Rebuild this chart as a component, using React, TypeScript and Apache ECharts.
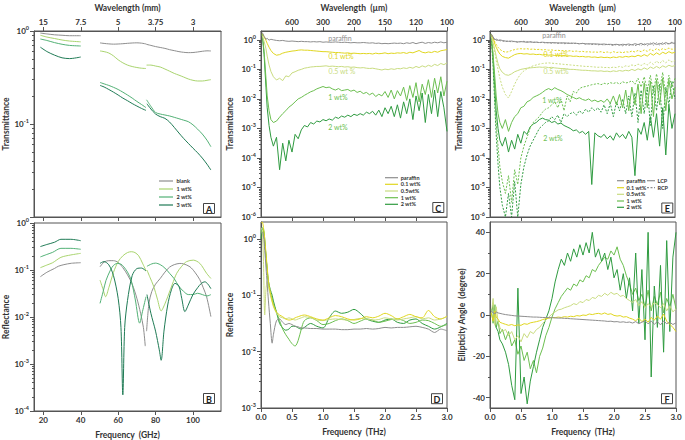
import { useEffect, useRef } from "react";
import * as echarts from "echarts";

type Pt = [number, number];

// ---------- Panel A: transmittance vs frequency (GHz), three waveguide bands ----------
const A_BLANK_K: Pt[] = [[18.4,0.95],[22,0.93],[26,0.91],[30,0.9],[34,0.89],[40,0.89]];
const A_BLANK_V: Pt[] = [[50.3,0.745],[52.5,0.735],[55,0.727],[57.5,0.722],[60,0.725],[62.5,0.73],[65,0.737],[67.5,0.743],[70,0.746],[72.5,0.74],[75,0.725]];
const A_BLANK_W: Pt[] = [[75,0.72],[77.5,0.7],[80,0.68],[82.5,0.665],[85,0.65],[87.5,0.63],[90,0.615],[92.5,0.6],[95,0.59],[97.5,0.585],[100,0.587],[102.5,0.595],[105,0.605],[107.5,0.612],[109.6,0.61]];
const A_1WT_K: Pt[] = [[18.4,0.9],[22,0.86],[26,0.83],[30,0.8],[34,0.78],[40,0.765]];
const A_1WT_V: Pt[] = [[50.3,0.61],[52.5,0.6],[55,0.58],[57.5,0.54],[60,0.49],[62.5,0.455],[65,0.43],[67.5,0.415],[70,0.405],[72.5,0.398],[74.9,0.395]];
const A_1WT_W: Pt[] = [[75.2,0.43],[77.5,0.43],[80,0.42],[82.5,0.41],[85,0.39],[87.5,0.37],[90,0.35],[92.5,0.335],[95,0.32],[97.5,0.305],[100,0.295],[102.5,0.29],[105,0.29],[107.5,0.295],[109.6,0.3]];
const A_2WT_K: Pt[] = [[18.4,0.82],[22,0.79],[26,0.75],[30,0.72],[34,0.7],[40,0.69]];
const A_2WT_V: Pt[] = [[50.3,0.28],[52.5,0.27],[55,0.26],[57.5,0.248],[60,0.235],[62.5,0.22],[65,0.205],[67.5,0.19],[70,0.175],[72.5,0.162],[74.9,0.15]];
const A_2WT_W: Pt[] = [[75.2,0.182],[77.5,0.155],[80,0.133],[82.5,0.128],[85,0.125],[87.5,0.122],[90,0.118],[92.5,0.114],[95,0.11],[97.5,0.106],[100,0.098],[102.5,0.088],[105,0.078],[107.5,0.067],[109.6,0.057]];
const A_3WT_K: Pt[] = [[18.4,0.67],[22,0.6],[26,0.55],[30,0.515],[34,0.505],[40,0.525]];
const A_3WT_V: Pt[] = [[50.3,0.26],[52.5,0.25],[55,0.235],[57.5,0.22],[60,0.205],[62.5,0.19],[65,0.178],[67.5,0.166],[70,0.156],[72.5,0.147],[74.9,0.14]];
const A_3WT_W: Pt[] = [[75.4,0.165],[77.5,0.145],[80,0.128],[82.5,0.12],[85,0.115],[87.5,0.105],[90,0.092],[92.5,0.08],[95,0.07],[97.5,0.062],[100,0.055],[102.5,0.049],[105,0.043],[107.5,0.037],[109.6,0.032]];

// ---------- Panel B: reflectance vs frequency (GHz) ----------
const B_BLANK_K: Pt[] = [[18.4,0.072],[22,0.09],[26,0.108],[28,0.12],[31,0.13],[35,0.139],[40,0.143]];
const B_BLANK_V: Pt[] = [[50.3,0.117],[52.5,0.148],[55,0.158],[57.5,0.158],[60,0.145],[62.5,0.112],[65,0.079],[67.5,0.05],[70,0.025],[72,0.012],[73.5,0.006],[74.5,0.0024]];
const B_BLANK_W: Pt[] = [[75.2,0.005],[76.5,0.02],[78,0.035],[80,0.05],[82.5,0.066],[85,0.09],[87.5,0.115],[90,0.13],[93,0.138],[95,0.135],[98.4,0.117],[101,0.09],[103.7,0.062],[105.5,0.042],[107.3,0.027],[109.6,0.0102]];
const B_1WT_K: Pt[] = [[18.4,0.112],[22,0.128],[25,0.143],[29.4,0.186],[34.7,0.209],[40,0.226]];
const B_1WT_V: Pt[] = [[50.3,0.061],[52,0.038],[53.3,0.027],[55,0.042],[57.5,0.089],[60,0.151],[62.5,0.2],[65,0.235],[67,0.245],[69,0.235],[71,0.2],[73,0.14],[75,0.095]];
const B_1WT_W: Pt[] = [[75.4,0.1],[77,0.07],[79,0.045],[81,0.024],[83,0.0135],[85,0.019],[86.5,0.027],[89,0.05],[91.3,0.085],[94,0.12],[96.6,0.151],[100.2,0.162],[103.7,0.138],[107.3,0.085],[109.6,0.066]];
const B_2WT_K: Pt[] = [[18.4,0.19],[22,0.215],[25,0.238],[29.4,0.289],[34.7,0.289],[40,0.276]];
const B_2WT_V: Pt[] = [[50.3,0.0195],[52,0.035],[53.5,0.06],[55.9,0.1],[57.5,0.125],[59.5,0.138],[61.5,0.133],[63,0.117],[65,0.09],[67,0.06],[69.2,0.023],[71.5,0.0074],[73,0.013],[74.9,0.027]];
const B_2WT_W: Pt[] = [[75.4,0.12],[78,0.135],[80,0.14],[82.5,0.13],[85,0.11],[87.5,0.085],[90,0.065],[92.5,0.045],[95,0.035],[97.5,0.03],[100,0.03],[102.5,0.032],[105,0.03],[107.5,0.028],[109.6,0.03]];
const B_3WT_K: Pt[] = [[18.4,0.315],[22,0.35],[26,0.39],[29.4,0.45],[34.7,0.45],[40,0.42]];
const B_3WT_V: Pt[] = [[50.3,0.138],[52.4,0.151],[55,0.129],[57.5,0.076],[60,0.025],[61.5,0.006],[62.5,0.00022],[63.5,0.006],[65,0.0224],[67.5,0.076],[70,0.107],[72.5,0.11],[74.9,0.095]];
const B_3WT_W: Pt[] = [[75.4,0.03],[77.5,0.012],[80,0.005],[82,0.002],[83,0.0012],[84.5,0.005],[86.5,0.018],[88.5,0.038],[90.4,0.052],[92.5,0.045],[94,0.025],[95.7,0.013],[97.5,0.018],[100,0.03],[102.5,0.042],[104.5,0.052],[106.4,0.056],[108,0.05],[109.6,0.04]];

// ---------- THz frequency grids ----------
const G_THZ = [0.02,0.05,0.08,0.1,0.13,0.16,0.2,
  0.25,0.3,0.35,0.4,0.45,0.5,0.55,0.6,0.65,0.7,
  0.75,0.8,0.85,0.9,0.95,1.0,1.05,1.1,1.15,1.2,
  1.25,1.3,1.35,1.4,1.45,1.5,1.55,1.6,1.65,1.7,
  1.75,1.8,1.85,1.9,1.95,2.0,2.05,2.1,2.15,2.2,
  2.25,2.3,2.35,2.4,2.45,2.5,2.55,2.6,2.65,2.7,
  2.75,2.8,2.85,2.9,2.95,3.0];
const GD_THZ = [0,0.02,0.04,0.06,0.08,0.1,0.12,0.15,0.18,0.2,
  0.25,0.3,0.35,0.4,0.45,0.5,0.55,0.6,0.65,0.7,
  0.8,0.9,1.0,1.1,1.2,1.3,1.4,1.5,1.6,1.7,1.8,1.9,2.0,2.1,2.2,2.3,2.4,2.5,2.6,2.7,2.8,2.9,3.0];

// ---------- Panel C: transmittance, log10 decades ----------
const C_PAR_LOG = [0.25,0.12,0.02,0.05,-0.01,0.02,0.0,
  -0.02,-0.03,-0.02,-0.04,-0.05,-0.04,-0.05,-0.06,-0.05,-0.06,
  -0.06,-0.07,-0.06,-0.07,-0.06,-0.08,-0.07,-0.08,-0.08,-0.07,
  -0.08,-0.09,-0.08,-0.09,-0.1,-0.09,-0.1,-0.1,-0.09,-0.1,
  -0.11,-0.1,-0.12,-0.11,-0.13,-0.12,-0.13,-0.12,-0.11,-0.12,
  -0.11,-0.13,-0.1,-0.12,-0.09,-0.13,-0.1,-0.08,-0.12,-0.09,
  -0.11,-0.08,-0.1,-0.07,-0.1,-0.08];
const C_01_LOG = [0.22,0.1,-0.02,-0.12,-0.25,-0.36,-0.46,
  -0.52,-0.5,-0.45,-0.42,-0.4,-0.38,-0.37,-0.35,-0.34,-0.35,
  -0.35,-0.36,-0.37,-0.38,-0.39,-0.4,-0.4,-0.41,-0.42,-0.43,
  -0.43,-0.44,-0.45,-0.44,-0.46,-0.45,-0.46,-0.47,-0.46,-0.47,
  -0.46,-0.48,-0.45,-0.47,-0.46,-0.44,-0.47,-0.45,-0.46,-0.44,
  -0.45,-0.43,-0.46,-0.42,-0.44,-0.4,-0.36,-0.42,-0.44,-0.41,
  -0.43,-0.39,-0.42,-0.37,-0.35,-0.33];
const C_05_LOG = [0.15,-0.05,-0.3,-0.55,-0.85,-1.07,-1.25,
  -1.36,-1.3,-1.38,-1.22,-1.25,-1.12,-1.08,-1.03,-1.0,-0.96,
  -0.94,-0.92,-0.91,-0.9,-0.9,-0.89,-0.88,-0.9,-0.89,-0.9,
  -0.91,-0.9,-0.92,-0.91,-0.93,-0.92,-0.94,-0.95,-0.94,-0.96,
  -0.97,-0.96,-0.98,-1.0,-1.02,-0.99,-1.01,-0.98,-1.0,-0.97,
  -0.98,-0.95,-0.97,-0.93,-0.96,-0.9,-0.94,-0.88,-0.92,-0.86,
  -0.9,-0.83,-0.87,-0.8,-0.84,-0.78];
const C_1_LOG = [0.2,-0.4,-1.3,-1.9,-2.4,-2.7,-2.8,
  -2.75,-2.62,-2.5,-2.4,-2.28,-2.2,-2.1,-2.0,-1.95,-1.88,
  -1.82,-1.76,-1.72,-1.66,-1.62,-1.58,-1.62,-1.6,-1.66,-1.7,
  -1.65,-1.72,-1.7,-1.68,-1.74,-1.7,-1.78,-1.74,-1.82,-1.78,
  -1.86,-1.8,-1.92,-1.84,-1.9,-1.75,-1.95,-1.7,-2.0,-1.72,
  -1.9,-1.6,-2.05,-1.55,-1.95,-1.45,-2.1,-1.5,-1.85,-1.35,
  -1.95,-1.3,-1.8,-1.25,-1.9,-1.4];
const C_2_LOG = [0.2,-0.5,-1.6,-2.3,-2.9,-3.3,-3.6,
  -3.3,-4.4,-3.5,-4.1,-3.4,-3.8,-3.2,-3.35,-3.05,-2.9,
  -2.95,-2.8,-2.85,-2.75,-2.78,-2.7,-2.74,-2.68,-2.72,-2.62,
  -2.66,-2.58,-2.62,-2.55,-2.6,-2.52,-2.56,-2.5,-2.55,-2.45,
  -2.5,-2.42,-2.55,-2.38,-2.6,-2.3,-2.5,-2.25,-2.6,-2.2,
  -2.65,-2.1,-2.5,-2.0,-2.7,-1.9,-2.4,-1.8,-2.8,-1.85,
  -2.5,-1.7,-2.6,-1.75,-2.3,-3.1];

// ---------- Panel D: reflectance, log10 decades ----------
const D_PAR_LOG = [0.1,0.12,0.05,-0.2,-0.5,-0.8,-1.1,-1.5,-1.85,-1.7,
  -1.45,-1.42,-1.48,-1.52,-1.5,-1.52,-1.55,-1.56,-1.58,-1.58,
  -1.59,-1.59,-1.6,-1.6,-1.6,-1.61,-1.61,-1.6,-1.6,-1.59,-1.6,-1.59,-1.57,-1.58,-1.57,-1.57,-1.56,-1.55,-1.57,-1.6,-1.66,-1.6,-1.63];
const D_01_LOG = [0.28,0.3,0.2,0.0,-0.25,-0.5,-0.75,-0.95,-1.1,-1.18,
  -1.3,-1.35,-1.38,-1.42,-1.44,-1.43,-1.4,-1.38,-1.36,-1.35,
  -1.38,-1.42,-1.44,-1.4,-1.36,-1.38,-1.42,-1.44,-1.42,-1.38,-1.4,-1.37,-1.32,-1.36,-1.42,-1.38,-1.34,-1.38,-1.4,-1.27,-1.38,-1.42,-1.37];
const D_05_LOG = [0.2,0.15,-0.4,-1.35,-0.9,-0.75,-0.85,-1.0,-1.12,-1.2,
  -1.32,-1.38,-1.4,-1.42,-1.4,-1.42,-1.44,-1.42,-1.4,-1.38,
  -1.4,-1.44,-1.45,-1.43,-1.42,-1.43,-1.44,-1.43,-1.41,-1.42,-1.44,-1.43,-1.4,-1.42,-1.44,-1.42,-1.4,-1.38,-1.42,-1.4,-1.44,-1.42,-1.38];
const D_1_LOG = [0.1,0.2,0.18,0.0,-0.3,-0.55,-0.8,-0.95,-1.05,-1.15,
  -1.3,-1.45,-1.6,-1.7,-1.78,-1.86,-1.9,-1.8,-1.6,-1.45,
  -1.4,-1.45,-1.52,-1.5,-1.45,-1.42,-1.45,-1.5,-1.46,-1.42,-1.44,-1.48,-1.46,-1.43,-1.42,-1.45,-1.5,-1.48,-1.44,-1.45,-1.5,-1.55,-1.52];
const D_2_LOG = [0.0,0.18,0.15,-0.05,-0.3,-0.55,-0.75,-0.9,-1.0,-1.1,
  -1.3,-1.5,-1.58,-1.62,-1.6,-1.55,-1.55,-1.58,-1.6,-1.57,
  -1.5,-1.55,-1.58,-1.4,-1.28,-1.32,-1.3,-1.25,-1.32,-1.42,-1.46,-1.48,-1.44,-1.42,-1.48,-1.5,-1.44,-1.42,-1.5,-1.55,-1.6,-1.56,-1.5];

// ---------- Panel E: transmittance LCP / RCP, log10 decades ----------
const E_PAR_LCP = [0.2,0.1,0.0,0.03,-0.02,0.0,-0.02,
  -0.04,-0.05,-0.04,-0.06,-0.07,-0.06,-0.07,-0.08,-0.07,-0.08,
  -0.08,-0.09,-0.08,-0.09,-0.1,-0.09,-0.1,-0.1,-0.11,-0.1,
  -0.11,-0.12,-0.11,-0.12,-0.13,-0.12,-0.13,-0.14,-0.13,-0.14,
  -0.14,-0.15,-0.14,-0.16,-0.15,-0.16,-0.15,-0.17,-0.15,-0.16,
  -0.14,-0.17,-0.13,-0.16,-0.12,-0.17,-0.13,-0.15,-0.1,-0.16,
  -0.12,-0.15,-0.09,-0.14,-0.1,-0.13];
const E_PAR_RCP = [0.15,0.05,0.02,-0.02,0.01,-0.03,-0.04,
  -0.06,-0.04,-0.07,-0.05,-0.08,-0.06,-0.05,-0.07,-0.06,-0.09,
  -0.07,-0.1,-0.08,-0.11,-0.09,-0.12,-0.1,-0.12,-0.1,-0.13,
  -0.12,-0.1,-0.13,-0.11,-0.14,-0.12,-0.15,-0.13,-0.16,-0.14,
  -0.17,-0.15,-0.18,-0.14,-0.17,-0.19,-0.16,-0.18,-0.2,-0.17,
  -0.19,-0.16,-0.2,-0.15,-0.19,-0.12,-0.2,-0.11,-0.18,-0.1,
  -0.17,-0.09,-0.15,-0.12,-0.08,-0.11];
const E_01_LCP = [0.2,0.05,-0.15,-0.25,-0.38,-0.48,-0.56,
  -0.6,-0.62,-0.56,-0.5,-0.47,-0.46,-0.48,-0.47,-0.49,-0.48,
  -0.5,-0.49,-0.51,-0.5,-0.52,-0.51,-0.53,-0.52,-0.54,-0.53,
  -0.55,-0.54,-0.56,-0.55,-0.57,-0.56,-0.58,-0.57,-0.59,-0.58,
  -0.6,-0.58,-0.6,-0.59,-0.61,-0.58,-0.6,-0.57,-0.59,-0.56,
  -0.58,-0.55,-0.57,-0.52,-0.56,-0.5,-0.55,-0.46,-0.52,-0.44,
  -0.5,-0.42,-0.47,-0.4,-0.45,-0.42];
const E_01_RCP = [0.18,0.08,-0.08,-0.15,-0.25,-0.32,-0.38,
  -0.42,-0.4,-0.36,-0.33,-0.31,-0.3,-0.31,-0.3,-0.32,-0.31,
  -0.33,-0.32,-0.34,-0.33,-0.35,-0.34,-0.36,-0.35,-0.37,-0.36,
  -0.38,-0.37,-0.39,-0.38,-0.4,-0.39,-0.41,-0.4,-0.42,-0.41,
  -0.42,-0.4,-0.43,-0.41,-0.44,-0.4,-0.43,-0.41,-0.44,-0.4,
  -0.42,-0.38,-0.41,-0.36,-0.4,-0.34,-0.39,-0.32,-0.37,-0.3,
  -0.35,-0.3,-0.33,-0.28,-0.32,-0.3];
const E_05_LCP = [0.15,-0.1,-0.35,-0.55,-0.8,-0.98,-1.1,
  -1.18,-1.2,-1.15,-1.08,-1.04,-1.0,-0.98,-0.96,-0.95,-0.94,
  -0.93,-0.92,-0.93,-0.92,-0.94,-0.93,-0.95,-0.96,-0.97,-0.98,
  -0.99,-1.0,-1.0,-1.01,-1.02,-1.03,-1.03,-1.04,-1.05,-1.05,
  -1.06,-1.05,-1.07,-1.06,-1.08,-1.05,-1.07,-1.04,-1.06,-1.03,
  -1.05,-1.0,-1.04,-0.98,-1.02,-0.95,-1.0,-0.92,-0.97,-0.9,
  -0.96,-0.88,-0.93,-0.86,-0.9,-0.87];
const E_05_RCP = [0.12,-0.15,-0.45,-0.7,-1.0,-1.3,-1.6,
  -1.85,-1.97,-1.75,-1.5,-1.3,-1.15,-1.05,-0.98,-0.92,-0.88,
  -0.85,-0.82,-0.8,-0.79,-0.78,-0.79,-0.8,-0.81,-0.82,-0.83,
  -0.84,-0.85,-0.86,-0.87,-0.88,-0.89,-0.9,-0.9,-0.91,-0.92,
  -0.93,-0.92,-0.94,-0.93,-0.95,-0.92,-0.94,-0.9,-0.93,-0.88,
  -0.9,-0.85,-0.88,-0.82,-0.87,-0.8,-0.85,-0.76,-0.83,-0.72,
  -0.8,-0.7,-0.78,-0.68,-0.75,-0.7];
const E_1_LCP = [0.2,-0.5,-1.3,-1.9,-2.5,-2.8,-3.0,
  -2.7,-3.1,-2.8,-2.6,-2.5,-2.3,-2.25,-2.1,-2.05,-1.95,
  -1.9,-1.85,-1.78,-1.7,-1.65,-1.7,-1.62,-1.68,-1.72,-1.78,
  -1.85,-1.9,-1.95,-2.0,-1.96,-2.02,-2.05,-2.0,-2.08,-2.04,
  -2.1,-2.05,-2.12,-2.0,-2.15,-1.9,-2.2,-1.85,-2.3,-1.7,
  -2.4,-1.6,-2.2,-1.5,-2.5,-1.45,-2.3,-1.4,-2.6,-1.35,
  -2.2,-1.3,-2.4,-1.35,-2.0,-1.6];
const E_1_RCP = [0.15,-0.8,-2.0,-2.8,-3.6,-4.3,-4.8,
  -5.2,-4.6,-5.5,-4.4,-4.9,-4.0,-3.6,-3.3,-3.0,-2.8,
  -2.7,-2.6,-2.45,-2.35,-2.3,-2.2,-2.1,-2.3,-2.0,-2.4,
  -1.9,-2.1,-1.75,-1.8,-1.65,-1.6,-1.58,-1.55,-1.52,-1.5,
  -1.48,-1.52,-1.47,-1.5,-1.45,-1.48,-1.44,-1.5,-1.42,-1.46,
  -1.44,-1.38,-1.5,-1.3,-1.6,-1.25,-1.7,-1.2,-1.8,-1.15,
  -1.7,-1.1,-1.9,-1.2,-1.6,-1.3];
const E_2_LCP = [0.2,-0.6,-1.7,-2.4,-3.0,-3.4,-3.6,
  -3.3,-3.8,-3.4,-3.7,-3.2,-3.5,-3.1,-3.2,-2.95,-2.85,
  -2.8,-2.7,-2.65,-2.7,-2.72,-2.8,-2.76,-2.85,-2.82,-2.9,
  -2.95,-3.0,-3.08,-3.05,-3.15,-3.1,-3.2,-3.1,-4.9,-3.15,
  -3.25,-3.3,-3.2,-3.35,-3.25,-3.4,-3.15,-3.3,-3.2,-3.35,
  -3.1,-3.3,-4.6,-3.0,-3.2,-2.8,-3.4,-2.6,-3.3,-2.5,
  -3.6,-2.3,-3.9,-2.2,-3.0,-2.5];
const E_2_RCP = [0.1,-0.9,-2.3,-3.2,-4.2,-5.0,-5.6,
  -6.0,-5.2,-6.0,-4.8,-6.0,-4.9,-4.3,-3.9,-3.6,-3.4,
  -3.2,-3.0,-2.9,-2.8,-2.75,-2.6,-2.7,-2.55,-2.8,-2.5,
  -2.6,-2.5,-2.45,-2.55,-2.4,-2.5,-2.35,-2.45,-2.3,-2.4,
  -2.3,-2.45,-2.2,-2.5,-2.15,-2.6,-2.1,-2.4,-2.0,-2.5,
  -1.9,-2.6,-1.8,-2.8,-1.7,-2.5,-1.6,-2.9,-1.55,-2.4,
  -1.5,-3.0,-1.6,-2.2,-1.4,-2.0];

// ---------- Panel F: ellipticity angle (degree) ----------
const F_PAR = [2,1,0.5,1.5,1,0.8,0.5,
  0.2,0,-0.2,-0.4,-0.5,-0.6,-0.7,-0.8,-0.9,-1.0,
  -1.0,-1.1,-1.2,-1.2,-1.3,-1.3,-1.4,-1.5,-1.5,-1.6,
  -1.7,-1.8,-1.9,-2.0,-2.1,-2.2,-2.3,-2.4,-2.5,-2.6,
  -2.7,-2.8,-2.9,-3.1,-3.0,-3.3,-3.2,-3.5,-3.3,-3.6,
  -3.4,-3.9,-3.2,-4.2,-3.5,-2.8,-4.3,-3.0,-4.5,-3.2,
  -4.8,-2.9,-4.2,-3.5,-4.6,-3.8];
const F_01 = [1,-3,2,-1,-2,-3.5,-4,
  -4.5,-5,-4.6,-5.2,-4.8,-5,-4.2,-4.5,-3.8,-3.5,
  -3.2,-2.8,-2.2,-1.8,-1.5,-1.2,-1.3,-1.0,-1.2,-0.8,
  -1.0,-0.6,-0.8,-0.3,-0.5,0,-0.2,0.5,0.2,0.6,
  0.8,0.4,1.0,0.3,0.6,-0.2,-0.5,-0.3,-1.0,-0.8,
  -1.5,-2.0,-2.8,-1.5,-3.2,-2.0,-3.5,-1.2,-2.5,-0.5,
  -2.0,0.5,-3.0,-4.5,-6,-8];
const F_05 = [0,8,-5,4,-3,-6,-8,
  -7,-10,-8,-12,-10,-13,-9,-11,-8,-9,
  -7,-6,-4,-2.5,-1,0.5,1.5,2.5,2.8,3.5,
  4,4.5,5.5,5,6.5,6,7.5,7,8.5,8,
  9.5,9,10.5,9.5,11,10,10.5,9,9.5,8,
  7,6,7.5,4.5,6.5,3.5,5.5,4,6,5,
  3.5,5.5,2,4.5,1.5,3];
const F_1 = [3,-4,5,-6,-3,-9,-7,
  -12,-8,-15,-12,-19,-15,-22,-18,-26,-22,
  -28,-20,-16,-10,-6,-1,3,6,9,11,
  13,12,15,14,17,16,19,18,22,21,
  24,26,28,27,31,29,33,27,24,19,
  15,10,13,7,10,4,12,2,9,5,
  11,1,8,4,10,3];
const F_2 = [0,5,-3,-6,-8,-12,-14,
  -18,-24,-34,-41,13,-38,-30,-43,-32,-25,
  -18,-12,-6,-2,2,8,16,22,27,24,
  30,26,32,28,34,29,35,30,40,28,
  32,26,30,22,28,18,22,12,20,8,
  18,2,30,-4,22,-12,40,-30,14,-6,
  24,-18,36,-8,28,40];

// ---------- tick values ----------
const GHZ_TICKS = [20, 40, 60, 80, 100];
const THZ_TICKS = [0, 0.5, 1, 1.5, 2, 2.5, 3];
const THZ_TOP_TICKS = [0.5, 1, 1.5, 2, 2.5, 3];
const ANGLE_TICKS = [-40, -20, 0, 20, 40];

// ---------- colours ----------
const COL_BLANK = "#8e8e8e";
const COL_A1 = "#a9d46e";
const COL_A2 = "#52b175";
const COL_A3 = "#1f7b55";
const COL_PAR = "#8e8e8e";
const COL_01 = "#e0d620";
const COL_05 = "#c9dc80";
const COL_1 = "#6cbf50";
const COL_2 = "#2f9b40";

const FONT = "Lato, 'Open Sans', sans-serif";
const INK = "#333";
const AXC = "#555";

const toLog = (pts: Pt[]) => pts.map(([f, v]) => [f, Math.log10(v)]);
const onGrid = (xs: number[], ys: number[]) => xs.map((x, i) => [x, ys[i]]);
const range = (a: number, b: number) => { const o: number[] = []; for (let n = a; n <= b; n++) o.push(n); return o; };
function minorLog(lo: number, hi: number) {
  const out: number[] = [];
  for (let n = Math.floor(lo); n < Math.ceil(hi); n++)
    for (let k = 2; k <= 9; k++) { const v = n + Math.log10(k); if (v > lo && v < hi) out.push(v); }
  return out;
}

const lab = { fontFamily: FONT, fontSize: 8, fontWeight: "bold" as const, color: INK };
const nameStyle = { fontFamily: FONT, fontSize: 8.5, fontWeight: "bold" as const, color: INK };
const powRich = {
  b: { fontFamily: FONT, fontSize: 8, fontWeight: "bold", color: INK },
  s: { fontFamily: FONT, fontSize: 5.5, fontWeight: "bold", color: INK, padding: [0, 0, 6, 0] },
};
const powFmt = (v: number) => `{b|10}{s|${Math.round(v)}}`;

function xAx(grid: number, min: number, max: number, ticks: number[], o: any = {}) {
  return {
    type: "value", gridIndex: grid, min, max, position: o.position || "bottom",
    axisLine: { show: true, onZero: false, lineStyle: { color: AXC, width: 1 } },
    axisTick: { show: true, customValues: ticks, length: 4, lineStyle: { color: AXC } },
    axisLabel: o.labels
      ? { show: true, customValues: o.labelValues || ticks, formatter: o.formatter, margin: 5, ...lab }
      : { show: false },
    splitLine: { show: false },
    name: o.name || "", nameLocation: "middle", nameGap: o.nameGap || 18, nameTextStyle: nameStyle,
  };
}
function yAx(grid: number, min: number, max: number, ticks: number[], o: any = {}) {
  return {
    type: "value", gridIndex: grid, min, max, position: "left",
    axisLine: { show: true, onZero: false, lineStyle: { color: AXC, width: 1 } },
    axisTick: { show: true, customValues: ticks, length: 4, lineStyle: { color: AXC } },
    axisLabel: {
      show: true, customValues: o.labelValues || ticks, margin: 5,
      formatter: o.pow ? powFmt : (v: number) => String(v), rich: o.pow ? powRich : undefined, ...lab,
    },
    splitLine: { show: false },
    name: o.name, nameLocation: "middle", nameGap: o.nameGap, nameRotate: 90, nameTextStyle: nameStyle,
  };
}
function minorAx(grid: number, min: number, max: number, ticks: number[]) {
  return {
    type: "value", gridIndex: grid, min, max, position: "left",
    axisLine: { show: false }, axisLabel: { show: false }, splitLine: { show: false },
    axisTick: { show: true, customValues: ticks, length: 2, lineStyle: { color: AXC } },
  };
}

function ln(xi: number, yi: number, data: any[], color: string, o: any = {}) {
  return {
    type: "line", xAxisIndex: xi, yAxisIndex: yi, data, symbol: "none", showSymbol: false,
    smooth: o.smooth ?? false, silent: true, clip: true, z: o.z ?? 2,
    lineStyle: { color, width: o.width ?? 1, type: o.dash ? [2, 1.5] : "solid" },
    itemStyle: { color },
  };
}

function letterBox(t: string, cx: number, cy: number) {
  return [
    { type: "rect", shape: { x: cx - 5.5, y: cy - 5, width: 11, height: 10 }, style: { fill: "#fff", stroke: "#444", lineWidth: 1 }, z: 100 },
    { type: "text", x: cx, y: cy + 0.5, z: 101, style: { text: t, fill: "#222", fontFamily: FONT, fontSize: 9, fontWeight: "bold", textAlign: "center", textVerticalAlign: "middle", align: "center", verticalAlign: "middle" } },
  ];
}
function legendRows(x1: number, x2: number, tx: number, ys: number[], labels: string[], colors: string[], dash = false) {
  const out: any[] = [];
  ys.forEach((y, i) => {
    out.push({ type: "line", z: 100, shape: { x1, y1: y, x2, y2: y }, style: { stroke: colors[i], lineWidth: 1.2, lineDash: dash ? [2, 1.5] : null } });
    out.push({ type: "text", x: tx, y, z: 100, style: { text: labels[i], fill: INK, fontFamily: FONT, fontSize: 5.5, fontWeight: "bold", textAlign: "left", textVerticalAlign: "middle", align: "left", verticalAlign: "middle" } });
  });
  return out;
}
function inlineLabel(t: string, cx: number, cy: number, color: string) {
  return { type: "text", x: cx, y: cy, z: 100, style: { text: t, fill: color, fontFamily: FONT, fontSize: 7, textAlign: "center", textVerticalAlign: "middle", align: "center", verticalAlign: "middle" } };
}

export default function App() {
  const ref = useRef<HTMLDivElement>(null);
  useEffect(() => {
    if (!ref.current) return;
    const chart = echarts.init(ref.current, null, { renderer: "svg" });
    const gridBase = { show: true, borderColor: AXC, borderWidth: 1, backgroundColor: "transparent", containLabel: false };
    const mmFmt = (v: number) => String(+(300 / v).toFixed(2));
    const umFmt = (v: number) => String(Math.round(300 / v));
    const thzFmt = (v: number) => v.toFixed(1);

    const series: any[] = [];
    // A
    ([[A_BLANK_K, A_BLANK_V, A_BLANK_W, COL_BLANK], [A_1WT_K, A_1WT_V, A_1WT_W, COL_A1], [A_2WT_K, A_2WT_V, A_2WT_W, COL_A2], [A_3WT_K, A_3WT_V, A_3WT_W, COL_A3]] as any[]).forEach(([k, v, w, c]) => {
      [k, v, w].forEach((seg: Pt[]) => series.push(ln(0, 0, toLog(seg), c, { smooth: 0.3 })));
    });
    // B
    ([[B_BLANK_K, B_BLANK_V, B_BLANK_W, COL_BLANK], [B_1WT_K, B_1WT_V, B_1WT_W, COL_A1], [B_2WT_K, B_2WT_V, B_2WT_W, COL_A2], [B_3WT_K, B_3WT_V, B_3WT_W, COL_A3]] as any[]).forEach(([k, v, w, c]) => {
      [k, v, w].forEach((seg: Pt[]) => series.push(ln(2, 1, toLog(seg), c, { smooth: 0.3 })));
    });
    // C
    series.push(ln(3, 2, onGrid(G_THZ, C_2_LOG), COL_2));
    series.push(ln(3, 2, onGrid(G_THZ, C_1_LOG), COL_1));
    series.push(ln(3, 2, onGrid(G_THZ, C_05_LOG), COL_05));
    series.push(ln(3, 2, onGrid(G_THZ, C_01_LOG), COL_01));
    series.push(ln(3, 2, onGrid(G_THZ, C_PAR_LOG), COL_PAR));
    // D
    series.push(ln(5, 3, onGrid(GD_THZ, D_2_LOG), COL_2, { smooth: 0.3 }));
    series.push(ln(5, 3, onGrid(GD_THZ, D_1_LOG), COL_1, { smooth: 0.3 }));
    series.push(ln(5, 3, onGrid(GD_THZ, D_05_LOG), COL_05, { smooth: 0.3 }));
    series.push(ln(5, 3, onGrid(GD_THZ, D_01_LOG), COL_01, { smooth: 0.3 }));
    series.push(ln(5, 3, onGrid(GD_THZ, D_PAR_LOG), COL_PAR, { smooth: 0.3 }));
    // E
    series.push(ln(6, 4, onGrid(G_THZ, E_2_RCP), COL_2, { dash: true }));
    series.push(ln(6, 4, onGrid(G_THZ, E_2_LCP), COL_2));
    series.push(ln(6, 4, onGrid(G_THZ, E_1_RCP), COL_1, { dash: true }));
    series.push(ln(6, 4, onGrid(G_THZ, E_1_LCP), COL_1));
    series.push(ln(6, 4, onGrid(G_THZ, E_05_RCP), COL_05, { dash: true }));
    series.push(ln(6, 4, onGrid(G_THZ, E_05_LCP), COL_05));
    series.push(ln(6, 4, onGrid(G_THZ, E_01_RCP), COL_01, { dash: true }));
    series.push(ln(6, 4, onGrid(G_THZ, E_01_LCP), COL_01));
    series.push(ln(6, 4, onGrid(G_THZ, E_PAR_RCP), COL_PAR, { dash: true }));
    series.push(ln(6, 4, onGrid(G_THZ, E_PAR_LCP), COL_PAR));
    // F
    series.push(ln(8, 5, onGrid(G_THZ, F_1), COL_1));
    series.push(ln(8, 5, onGrid(G_THZ, F_2), COL_2));
    series.push(ln(8, 5, onGrid(G_THZ, F_05), COL_05));
    series.push(ln(8, 5, onGrid(G_THZ, F_01), COL_01));
    series.push(ln(8, 5, onGrid(G_THZ, F_PAR), COL_PAR));

    const graphic: any[] = [
      ...letterBox("A", 209, 208.5), ...letterBox("B", 209, 398.5),
      ...letterBox("C", 438.3, 207.5), ...letterBox("D", 437, 398.7),
      ...letterBox("E", 667.3, 208), ...letterBox("F", 667, 398.7),
      ...legendRows(159, 173, 176.5, [181, 189, 197, 205], ["blank", "1 wt%", "2 wt%", "3 wt%"], [COL_BLANK, COL_A1, COL_A2, COL_A3]),
      ...legendRows(385, 398, 400.7, [177.7, 184.3, 191, 197.7, 204.3], ["paraffin", "0.1 wt%", "0.5wt%", "1 wt%", "2 wt%"], [COL_PAR, COL_01, COL_05, COL_1, COL_2]),
      ...legendRows(617, 624, 626.5, [180.7, 187.7, 194.3, 201, 207.3], ["paraffin", "0.1 wt%", "0.5wt%", "1 wt%", "2 wt%"], [COL_PAR, COL_01, COL_05, COL_1, COL_2]),
      ...legendRows(647, 655, 657.5, [180.7], ["LCP"], [COL_PAR]),
      ...legendRows(647, 655, 657.5, [187.7], ["RCP"], [COL_PAR], true),
      inlineLabel("paraffin", 340, 38, COL_PAR),
      inlineLabel("0.1 wt%", 341, 56, COL_01),
      inlineLabel("0.5 wt %", 342, 71, COL_05),
      inlineLabel("1 wt%", 338, 97, COL_1),
      inlineLabel("2 wt%", 338, 127, COL_1),
      inlineLabel("paraffin", 554, 35, COL_PAR),
      inlineLabel("0.1 wt%", 556, 54, COL_01),
      inlineLabel("0.5 wt%", 556, 71, COL_05),
      inlineLabel("1 wt%", 552, 100, COL_1),
      inlineLabel("2 wt%", 553, 138, COL_1),
    ];

    chart.setOption({
      animation: false,
      backgroundColor: "#fff",
      textStyle: { fontFamily: FONT },
      grid: [
        { ...gridBase, left: 34, top: 31, width: 187, height: 186 },
        { ...gridBase, left: 34, top: 223, width: 187, height: 188 },
        { ...gridBase, left: 261, top: 31, width: 186, height: 186 },
        { ...gridBase, left: 261, top: 222, width: 186, height: 186 },
        { ...gridBase, left: 490, top: 31, width: 186, height: 186 },
        { ...gridBase, left: 490, top: 222, width: 186, height: 186 },
      ],
      xAxis: [
        xAx(0, 15, 115, GHZ_TICKS),
        xAx(0, 15, 115, GHZ_TICKS, { position: "top", labels: true, formatter: mmFmt, name: "Wavelength (mm)", nameGap: 19 }),
        xAx(1, 15, 115, GHZ_TICKS, { labels: true, formatter: (v: number) => String(v), name: "Frequency  (GHz)", nameGap: 19 }),
        xAx(2, 0, 3, THZ_TICKS.slice(1, 6)),
        xAx(2, 0, 3, THZ_TOP_TICKS, { position: "top", labels: true, formatter: umFmt, name: "Wavelength  (µm)", nameGap: 19 }),
        xAx(3, 0, 3, THZ_TICKS, { labels: true, formatter: thzFmt, name: "Frequency  (THz)", nameGap: 19 }),
        xAx(4, 0, 3, THZ_TICKS.slice(1, 6)),
        xAx(4, 0, 3, THZ_TOP_TICKS, { position: "top", labels: true, formatter: umFmt, name: "Wavelength  (µm)", nameGap: 19 }),
        xAx(5, 0, 3, THZ_TICKS, { labels: true, formatter: thzFmt, name: "Frequency  (THz)", nameGap: 19 }),
      ],
      yAxis: [
        yAx(0, -2, 0, range(-2, 0), { pow: true, labelValues: [-1, 0], name: "Transmittance", nameGap: 23 }),
        yAx(1, -4, 0, range(-4, 0), { pow: true, name: "Reflectance", nameGap: 23 }),
        yAx(2, -6, 0.3, range(-6, 0), { pow: true, name: "Transmittance", nameGap: 27 }),
        yAx(3, -3, 0.3, range(-3, 0), { pow: true, name: "Reflectance", nameGap: 27 }),
        yAx(4, -6, 0.3, range(-6, 0), { pow: true, name: "Transmittance", nameGap: 27 }),
        yAx(5, -45, 45, ANGLE_TICKS, { name: "Ellipticity Angle  (degree)", nameGap: 24 }),
        minorAx(0, -2, 0, minorLog(-2, 0)),
        minorAx(1, -4, 0, minorLog(-4, 0)),
        minorAx(2, -6, 0.3, minorLog(-6, 0.3)),
        minorAx(3, -3, 0.3, minorLog(-3, 0.3)),
        minorAx(4, -6, 0.3, minorLog(-6, 0.3)),
        minorAx(5, -45, 45, [-30, -10, 10, 30]),
      ],
      series,
      graphic,
    });
    return () => chart.dispose();
  }, []);
  return <div ref={ref} style={{ position: "absolute", left: 0, top: 0, width: 685, height: 440 }} />;
}
